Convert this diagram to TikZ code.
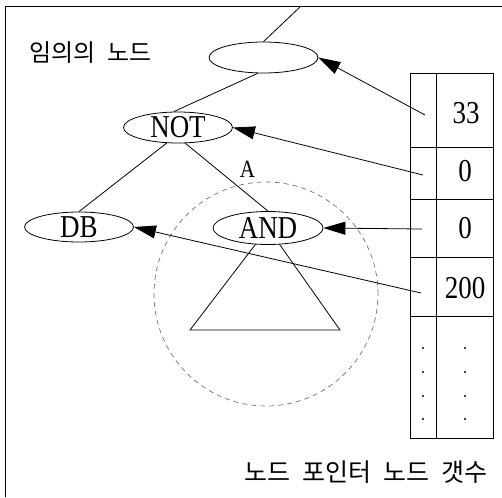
\documentclass[tikz,border=0pt]{standalone}
\usepackage{fontspec}
\usepackage{graphicx}
\setmainfont{Liberation Serif}
\newfontfamily\krfont{Noto Sans CJK KR}
\usetikzlibrary{arrows.meta,shapes.geometric}
\pgfdeclarelayer{background}
\pgfsetlayers{background,main}
\newcommand{\talltxt}[1]{\scalebox{1}[1.18]{#1}}
\begin{document}
\begin{tikzpicture}[x=1pt,y=-1pt,
  ell/.style={draw, ellipse, line width=0.8pt, fill=white, inner sep=0pt,
    minimum width=109pt, minimum height=31pt, font=\fontsize{27}{27}\selectfont},
  lin/.style={line width=0.8pt},
  arr/.style={line width=0.8pt, -{Triangle[length=22pt,width=13pt]}},
  num/.style={font=\fontsize{27}{27}\selectfont, inner sep=0pt},
  kor/.style={font=\krfont\fontsize{24}{24}\selectfont, inner sep=0pt},
  dotm/.style={circle, fill, inner sep=0pt, minimum size=2.4pt},
  cell/.style={draw, rectangle, inner sep=0pt, line width=0.8pt},
  frameline/.style={line width=1pt},
  zone/.style={draw=black!55, circle, dash pattern=on 5pt off 4pt, line width=0.7pt, inner sep=0pt}]
\useasboundingbox (0,0) rectangle (502,497);

% frame
\coordinate (fbl) at (5,497);
\coordinate (ftl) at (5,7);
\coordinate (ftr) at (502,7);
\draw[frameline] (fbl) -- (ftl) -- (ftr);

% tree nodes
\node[ell] (top) at (263.5,57.5) {};
\node[ell] (not) at (178,127.5) {\talltxt{NOT}};
\node[ell, minimum height=30pt] (db) at (79,227) {\talltxt{DB}};
\node[ell, minimum width=110pt, minimum height=33pt] (and) at (268,228) {\talltxt{AND}};

% subtree triangle and dashed region (behind)
\coordinate (tl) at (190,330);
\coordinate (tr) at (340,330);
\begin{pgfonlayer}{background}
  \node[zone, minimum size=224pt] (region) at (266,294) {};
  \draw[lin] (and.center) -- (tl) -- (tr) -- cycle;
\end{pgfonlayer}

% tree edges
\coordinate (up) at (300,7);
\draw[lin] (top.north) -- (up);
\draw[lin] (top.250) -- (not.105);
\draw[lin] (not.234) -- (db.north);
\draw[lin] (not.295) -- (and.north);
\node[num, font=\fontsize{21}{21}\selectfont] (lblA) at (247.5,169.5) {\talltxt{A}};

% table
\node[cell, minimum width=26pt, minimum height=74pt] (p1) at (423,110) {};
\node[cell, minimum width=26pt, minimum height=52pt] (p2) at (423,173) {};
\node[cell, minimum width=26pt, minimum height=58pt] (p3) at (423,228) {};
\node[cell, minimum width=26pt, minimum height=59pt] (p4) at (423,286.5) {};
\node[cell, minimum width=26pt, minimum height=122pt] (p5) at (423,377) {};
\node[cell, minimum width=57pt, minimum height=74pt] (n1) at (464.5,110) {};
\node[cell, minimum width=57pt, minimum height=52pt] (n2) at (464.5,173) {};
\node[cell, minimum width=57pt, minimum height=58pt] (n3) at (464.5,228) {};
\node[cell, minimum width=57pt, minimum height=59pt] (n4) at (464.5,286.5) {};
\node[cell, minimum width=57pt, minimum height=122pt] (n5) at (464.5,377) {};

\node[num] (v1) at (466,113) {\talltxt{33}};
\node[num] (v2) at (465,171.5) {\talltxt{0}};
\node[num] (v3) at (465,228) {\talltxt{0}};
\node[num] (v4) at (465,288) {\talltxt{200}};

\foreach \yy in {348,372,396,419} {
  \node[dotm] at (423,\yy) {};
  \node[dotm] at (465,\yy) {};
}

% pointer arrows
\coordinate (a1) at (425,115);
\coordinate (a2) at (423,175);
\coordinate (a3) at (422,229);
\coordinate (a4) at (421,293);
\draw[arr] (a1) -- (top.east);
\draw[arr] (a2) -- (not.east);
\draw[arr] (a3) -- (and.east);
\draw[arr] (a4) -- (db.east);

% labels
\node[kor] (t1) at (90.5,53) {임의의\hspace{11pt}노드};
\node[kor, font=\krfont\fontsize{25}{25}\selectfont] (t2) at (366,472) {노드\hspace{12pt}포인터\hspace{12pt}노드\hspace{12pt}갯수};
\end{tikzpicture}
\end{document}
